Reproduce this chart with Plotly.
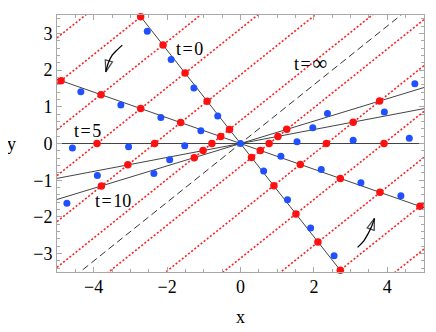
import plotly.graph_objects as go

# solid lines through the origin (slopes), t=0 ... t=10
line_slopes = [-1.27, -0.35, 0.0, 0.19, 0.305]
# limit direction t=inf and the parallel red trajectories
inf_slope = 0.8
traj_offsets = [6.875, 5.625, 4.375, 3.125, 1.875, 0.625,
                -0.625, -1.875, -3.125, -4.375, -5.625, -6.875]

# red points (on the solid lines)
red_x = [-0.30, -0.91, -1.51, -2.11, -2.72,
         -0.54, -1.63, -2.72, -3.80, -4.89,
         -0.78, -2.34, -3.91,
         -1.02, -3.07,
         -1.26, -3.79,
         0.30, 0.91, 1.51, 2.11, 2.72,
         0.54, 1.63, 2.72, 3.80, 4.89,
         0.78, 2.34, 3.91,
         1.02, 3.07,
         1.26, 3.79]
red_y = [0.38, 1.15, 1.92, 2.68, 3.45,
         0.19, 0.57, 0.95, 1.33, 1.71,
         0.0, 0.0, 0.0,
         -0.19, -0.58,
         -0.39, -1.16,
         -0.38, -1.15, -1.92, -2.68, -3.45,
         -0.19, -0.57, -0.95, -1.33, -1.71,
         0.0, 0.0, 0.0,
         0.19, 0.58,
         0.39, 1.16]

# blue points
blue_x = [-2.54, -1.89, -1.27, -0.62,
          -4.35, -3.26, -2.17, -1.08,
          -4.58, -3.05, -1.52,
          -3.90, -1.93,
          -4.73, -2.36,
          0.0,
          0.63, 1.28, 1.91, 2.55,
          1.10, 2.20, 3.28, 4.37,
          1.54, 3.07, 4.60,
          1.97, 3.92,
          2.37, 4.75]
blue_y = [3.06, 2.29, 1.51, 0.75,
          1.41, 1.05, 0.71, 0.35,
          -0.12, -0.09, -0.06,
          -0.87, -0.44,
          -1.63, -0.82,
          0.0,
          -0.75, -1.53, -2.30, -3.06,
          -0.35, -0.71, -1.07, -1.42,
          0.05, 0.09, 0.14,
          0.43, 0.86,
          0.82, 1.63]

# curved arrows
arrow1_x = [-3.22, -3.36, -3.50, -3.60, -3.67]
arrow1_y = [2.68, 2.55, 2.40, 2.20, 1.95]
arrow2_x = [3.19, 3.36, 3.49, 3.58, 3.65]
arrow2_y = [-2.83, -2.65, -2.43, -2.24, -2.04]

hs = "\u200a"
labels = ["t" + hs + "=" + hs + "0", "t" + hs + "=" + hs + "5", "t" + hs + "=" + hs + "10",
          "t" + hs + "=" + hs + "<span style='font-size:21px'>\u221e</span>"]
label_x = [-1.40, -4.18, -3.48, 1.90]
label_y = [2.57, 0.35, -1.56, 2.20]

xr = [-5, 5]
FONT = "Liberation Serif"

fig = go.Figure()

for c in traj_offsets:
    fig.add_trace(go.Scatter(x=xr, y=[inf_slope * v + c for v in xr], mode="lines",
                             line=dict(color="#ff2020", width=1.6, dash="2px,2px")))

fig.add_trace(go.Scatter(x=xr, y=[inf_slope * v for v in xr], mode="lines",
                         line=dict(color="#333333", width=1, dash="7px,4px")))

for s in line_slopes:
    fig.add_trace(go.Scatter(x=xr, y=[s * v for v in xr], mode="lines",
                             line=dict(color="#444444", width=1)))

fig.add_trace(go.Scatter(x=red_x, y=red_y, mode="markers", cliponaxis=False,
                         marker=dict(color="#ff1010", size=7.5)))
fig.add_trace(go.Scatter(x=blue_x, y=blue_y, mode="markers", cliponaxis=False,
                         marker=dict(color="#2050ff", size=7)))

for ax_, ay_ in [(arrow1_x, arrow1_y), (arrow2_x, arrow2_y)]:
    fig.add_trace(go.Scatter(x=ax_, y=ay_, mode="lines+markers",
                             line=dict(color="black", width=1.3, shape="spline"),
                             marker=dict(symbol=["circle"] * 4 + ["arrow-open"],
                                         size=[0, 0, 0, 0, 12], angleref="previous",
                                         color="black", line=dict(color="black", width=1.3))))

for t, lx, ly in zip(labels, label_x, label_y):
    fig.add_annotation(x=lx, y=ly, text=t, showarrow=False,
                       font=dict(family=FONT, size=18, color="black"))

fig.add_annotation(x=0, y=-0.175, xref="x", yref="paper", text="x", showarrow=False,
                   xanchor="center", yanchor="middle",
                   font=dict(family=FONT, size=18, color="black"))
fig.add_annotation(x=-0.123, y=0, xref="paper", yref="y", text="y", showarrow=False,
                   xanchor="center", yanchor="middle",
                   font=dict(family=FONT, size=18, color="black"))

axis_common = dict(showline=True, linecolor="#a8a8a8", linewidth=1, mirror="allticks",
                   ticks="inside", ticklen=5, tickcolor="#a8a8a8", showgrid=False,
                   zeroline=False, tickfont=dict(family=FONT, size=18, color="black"))

fig.update_xaxes(range=xr, tickvals=[-4, -2, 0, 2, 4], ticktext=["\u22124", "\u22122", "0", "2", "4"],
                 minor=dict(dtick=0.5, ticklen=3, tickcolor="#a8a8a8", ticks="inside"),
                 ticklabelstandoff=-2, **axis_common)
fig.update_yaxes(range=[-3.5, 3.5], tickvals=[-3, -2, -1, 0, 1, 2, 3],
                 ticktext=["\u22123", "\u22122", "\u22121", "0", "1", "2", "3"],
                 minor=dict(dtick=0.2, ticklen=3, tickcolor="#a8a8a8", ticks="inside"),
                 ticklabelstandoff=0, **axis_common)

# page body adds an 8px offset, so the figure is 8px smaller and shifted
fig.update_layout(width=428, height=324, showlegend=False,
                  margin=dict(l=49, r=12, t=7, b=60),
                  plot_bgcolor="white", paper_bgcolor="white")

fig.write_html("out.html")
